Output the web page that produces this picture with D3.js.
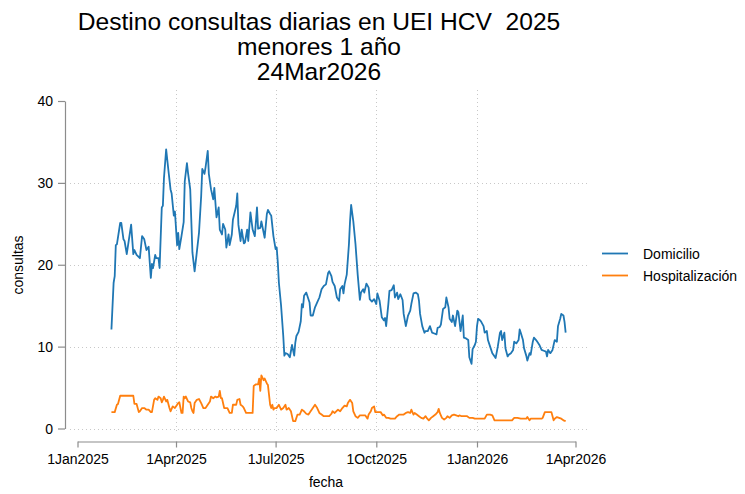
<!DOCTYPE html>
<html>
<head>
<meta charset="utf-8">
<script src="https://cdn.jsdelivr.net/npm/d3@7"></script>
<style>
  body { margin: 0; background: #fff; }
  text { font-family: "Liberation Sans", Arial, sans-serif; fill: #000; }
  .grid line { stroke: #c8c8c8; stroke-width: 1; stroke-dasharray: 1,3; }
  .axis path, .axis line { stroke: #8c8c8c; stroke-width: 1.2; }
</style>
</head>
<body>
<script>
// days counted from 1Jan2025
var diasDom = [31,33,34,35,36,39,40,42,43,45,49,51,52,54,57,59,61,63,65,67,68,69,71,72,74,75,77,78,79,81,83,85,86,88,89,91,92,93,95,97,98,100,101,103,105,107,109,111,113,114,116,117,119,120,122,124,125,127,129,
  130,132,133,135,136,138,139,141,142,145,146,147,149,150,152,153,155,156,158,160,162,164,165,167,168,171,173,174,176,177,179,181,182,183,184,186,188,189,190,192,194,196,198,199,200,202,204,205,206,207,209,212,213,215,217,219,221,223,225,227,229,230,232,233,235,
  237,239,240,242,243,244,246,248,249,250,252,254,256,258,259,261,262,264,266,267,269,271,273,274,276,278,280,281,282,284,285,287,289,290,292,293,295,297,298,300,302,304,305,307,309,311,312,313,315,317,318,320,322,324,326,328,329,331,332,334,336,337,339,
  340,342,343,345,347,348,350,352,353,355,357,358,360,361,363,364,365,366,368,369,371,372,374,375,377,379,380,382,384,386,387,388,390,391,393,394,396,398,399,401,403,404,405,407,408,410,411,413,414,416,417,419,421,422,424,426,428,429,430,432,434,436,438,439,441,442,444,445,446];
var domicilio = [12.1,17.8,18.6,22.4,22.5,25.1,25.1,23.1,22.9,21.3,24.9,21.3,21.8,21.2,20.8,23.5,23.1,21.8,22.2,18.4,20.1,19.6,21.2,20.8,20.8,19.6,27.0,27.2,30.6,34.1,31.6,29.2,28.7,26.0,26.5,22.4,23.9,21.9,23.5,25.2,30.2,32.4,31.2,29.2,21.5,19.2,21.5,23.9,28.4,31.7,31.1,31.9,33.9,31.1,29.2,28.0,29.4,25.8,27.0,
  24.3,23.7,25.0,24.3,22.1,23.7,22.4,23.7,25.5,27.2,28.7,24.9,22.9,24.3,22.6,22.7,24.3,22.9,26.4,24.3,23.5,27.0,24.4,24.5,25.3,23.3,26.2,26.7,26.2,26.0,23.5,21.9,22.1,20.3,17.8,15.0,11.3,8.9,9.2,9.1,8.7,10.2,8.9,10.5,11.3,11.8,13.1,15.2,14.8,16.2,16.6,15.4,13.8,13.8,14.8,15.4,16.0,17.0,17.4,17.6,19.0,19.2,18.6,17.9,17.4,
  16.0,15.6,17.0,17.4,16.5,17.6,18.8,22.5,25.3,27.3,25.3,22.5,18.8,15.7,16.6,17.0,16.6,17.7,17.2,15.8,15.5,15.8,15.2,16.5,15.6,13.6,13.2,13.5,12.5,15.2,16.8,16.9,17.5,16.0,16.6,15.8,16.4,15.7,14.0,12.5,13.8,14.4,15.2,16.5,16.6,16.4,15.6,14.0,12.5,11.7,11.9,11.9,12.5,11.7,11.6,11.5,12.3,12.4,12.7,14.6,14.8,16.0,14.8,
  13.4,13.0,13.8,12.5,14.4,14.2,11.9,13.8,11.1,11.0,10.8,8.7,7.9,9.7,10.2,10.6,12.5,13.4,13.2,13.0,12.5,11.7,11.9,10.8,10.0,9.2,9.0,8.6,10.0,11.7,11.9,10.8,11.7,9.8,8.8,9.0,9.2,9.6,10.6,10.4,10.8,12.1,11.7,10.8,9.8,8.9,8.3,9.2,9.0,10.6,11.1,10.8,10.4,10.2,9.6,9.5,9.4,8.8,9.6,9.2,9.6,10.8,10.6,12.5,13.4,14.0,13.8,13.0,11.7];

var diasHosp = [31,34,36,37,39,51,52,54,56,57,59,61,63,65,67,68,70,71,73,74,76,77,78,79,81,82,84,85,87,89,91,92,93,95,96,97,98,99,101,103,104,105,106,107,109,111,113,115,117,119,121,122,124,126,127,129,130,131,132,134,135,137,139,141,142,145,146,148,149,151,152,154,160,
  161,163,165,166,167,168,170,171,173,174,176,177,178,179,180,182,184,186,188,190,191,193,195,197,199,201,203,205,207,209,211,213,215,217,219,221,223,225,227,230,232,233,235,238,240,242,244,246,247,249,251,252,254,256,258,260,263,265,266,268,269,271,272,275,277,279,280,
  282,284,286,288,290,292,294,296,298,300,302,304,305,307,308,310,312,314,316,318,319,321,323,325,327,329,330,331,333,335,337,338,340,342,344,346,348,349,351,354,356,358,361,363,365,366,368,370,372,374,376,377,379,381,388,394,397,399,402,405,408,410,411,413,414,416,418,420,422,424,425,427,430,433,435,436,438,440,442,444,446];
var hospitalizacion = [2,2,2.9,3,4,4,3,3,2,2.1,2.5,2.5,2.3,2.3,2,2,3.5,3.7,3.5,3.9,3.7,3.2,3.5,3.9,3.3,3.5,2.5,2.1,2.7,2.5,2.9,3.1,3.2,1.9,1.9,3.9,3.7,3.9,3.3,3.2,2.5,2.1,1.9,3.1,3.5,3.6,3.1,2.5,2.5,2.9,3.3,3.9,3.7,3.9,3.8,3.9,4.6,3.7,3.7,2.5,2.5,2.5,1.9,1.9,2.9,2.9,3.5,3.6,2.9,2.7,2.5,1.9,1.9,
  5.2,5.4,5.4,6.1,4.6,6.5,5.9,6.1,5.5,5.3,2.9,2.5,2.9,2.3,2.5,2.5,2.9,2.3,2.5,2.9,2.3,2.5,2.1,0.9,0.9,1.7,1.7,2.3,2.1,1.8,1.7,2.1,2.5,2.9,2.5,1.9,1.7,1.5,1.5,1.5,1.8,2.1,1.9,2.3,2.1,2.5,2.8,2.7,3.1,3.5,3.1,2.1,1.5,1.3,1.6,1.6,1.6,1.2,1.7,2.1,2.5,2.7,2.0,2.0,2.0,1.6,1.7,
  1.3,1.3,1.2,1.2,1.2,1.5,1.7,1.7,1.7,1.9,2.0,1.9,2.3,1.7,1.9,1.7,1.5,1.3,1.2,1.5,1.3,1.0,1.3,1.5,1.7,2.0,2.4,1.9,1.3,1.1,1.3,1.5,1.3,1.6,1.7,1.6,1.5,1.6,1.5,1.5,1.5,1.3,1.3,1.2,1.2,1.2,1.2,1.2,1.2,1.7,1.7,1.7,1.6,1.0,1.0,1.0,1.0,1.3,1.3,1.2,1.2,1.2,1.4,1.0,1.2,1.2,1.2,1.2,1.2,1.2,1.3,2.0,2.0,2.0,1.0,1.2,1.4,1.3,1.2,1.0,0.9];

var series = ["Domicilio", "Hospitalización"];
var colores = ["#1f77b4", "#ff7f0e"];
var yTicks = [0, 10, 20, 30, 40];
var xTicks = ["2025-01-01", "2025-04-01", "2025-07-01", "2025-10-01", "2026-01-01", "2026-04-01"];
var titulo = ["Destino consultas diarias en UEI HCV  2025", "menores 1 año", "24Mar2026"];

var W = 745, H = 494;
var inicio = new Date(2025, 0, 1);
var parseDay = d3.timeParse("%Y-%m-%d");
var fmt = function(d) { return d3.timeFormat("%-d")(d) + d3.timeFormat("%b")(d) + d3.timeFormat("%Y")(d); };

function toData(dias, vals) {
  return dias.map(function(d, i) { return {fecha: d3.timeDay.offset(inicio, d), v: vals[i]}; });
}
var datos = [toData(diasDom, domicilio), toData(diasHosp, hospitalizacion)];

var x = d3.scaleTime()
    .domain([parseDay(xTicks[0]), parseDay(xTicks[xTicks.length - 1])])
    .range([77.5, 575.5]);
var y = d3.scaleLinear().domain([0, 40]).range([428.5, 101]);

var svg = d3.select("body").append("svg")
    .attr("width", W)
    .attr("height", H);

// gridlines (inner ticks only, like the original)
var grid = svg.append("g").attr("class", "grid");
grid.selectAll(".gy")
    .data(yTicks.slice(0, -1))
  .enter().append("line")
    .attr("x1", 70).attr("x2", 587)
    .attr("y1", function(d) { return Math.round(y(d)) + 0.5; })
    .attr("y2", function(d) { return Math.round(y(d)) + 0.5; });
grid.selectAll(".gx")
    .data(xTicks.slice(1, -1).map(parseDay))
  .enter().append("line")
    .attr("y1", 90).attr("y2", 432)
    .attr("x1", function(d) { return Math.round(x(d)) + 0.5; })
    .attr("x2", function(d) { return Math.round(x(d)) + 0.5; });

// y axis, set apart from the plot
var gY = svg.append("g")
    .attr("class", "axis")
    .attr("transform", "translate(65,0)")
    .call(d3.axisLeft(y).tickValues(yTicks).tickSize(7).tickPadding(5).tickSizeOuter(0));
gY.selectAll("text").style("font-size", "14px").attr("dy", "0.35em");

var gX = svg.append("g")
    .attr("class", "axis")
    .attr("transform", "translate(0,441.5)")
    .call(d3.axisBottom(x).tickValues(xTicks.map(parseDay)).tickFormat(fmt).tickSize(6).tickPadding(7).tickSizeOuter(0));
gX.selectAll("text").style("font-size", "14px");

svg.append("text")
    .attr("x", 326).attr("y", 487)
    .attr("text-anchor", "middle")
    .style("font-size", "14px")
    .text("fecha");

svg.append("text")
    .attr("transform", "translate(23,265) rotate(-90)")
    .attr("text-anchor", "middle")
    .style("font-size", "14px")
    .text("consultas");

// lines
var line = d3.line()
    .x(function(d) { return x(d.fecha); })
    .y(function(d) { return y(d.v); });

svg.selectAll(".serie")
    .data(datos)
  .enter().append("path")
    .attr("fill", "none")
    .attr("stroke", function(d, i) { return colores[i]; })
    .attr("stroke-width", 1.8)
    .attr("stroke-linejoin", "round")
    .attr("d", line);

// title (keep the double space)
svg.append("g").selectAll("text")
    .data(titulo)
  .enter().append("text")
    .attr("x", 319)
    .attr("y", function(d, i) { return 30 + i * 25; })
    .attr("text-anchor", "middle")
    .style("font-size", "24.6px")
    .style("white-space", "pre")
    .text(function(d) { return d; });

// legend
var leg = svg.append("g").selectAll("g")
    .data(series)
  .enter().append("g")
    .attr("transform", function(d, i) { return "translate(0," + (253.5 + i * 22) + ")"; });
leg.append("line")
    .attr("x1", 602).attr("x2", 628)
    .attr("stroke", function(d, i) { return colores[i]; })
    .attr("stroke-width", 1.8);
leg.append("text")
    .attr("x", 643).attr("y", 5.5)
    .style("font-size", "14px")
    .text(function(d) { return d; });
</script>
</body>
</html>
